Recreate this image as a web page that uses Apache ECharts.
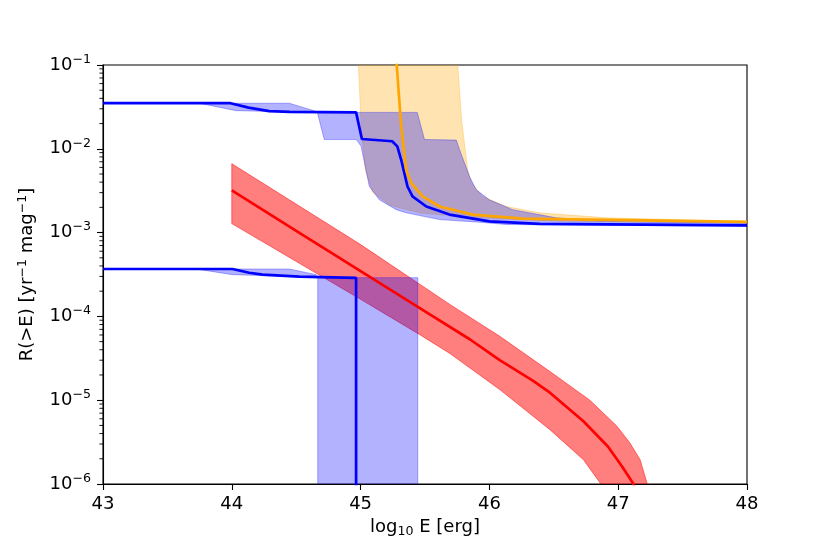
<!DOCTYPE html>
<html>
<head>
<meta charset="utf-8">
<script src="https://cdn.jsdelivr.net/npm/echarts@6/dist/echarts.min.js"></script>
<style>
  html, body { margin: 0; padding: 0; background: #fff; }
  #chart { width: 830px; height: 554px; }
</style>
</head>
<body>
<div id="chart"></div>
<script>
// x = log10 E [erg], y = R(>E)
// upper blue curve and its band
const blueHighE = [43.0, 43.99, 44.13, 44.29, 44.45, 44.965, 45.01, 45.245, 45.285, 45.315, 45.364, 45.403, 45.51, 45.69, 46.0, 46.39, 48.0]
const blueHighR = [0.035, 0.035, 0.031, 0.0282, 0.0276, 0.0272, 0.0131, 0.0123, 0.0107, 7.4e-3, 3.55e-3, 2.7e-3, 2.05e-3, 1.64e-3, 1.36e-3, 1.27e-3, 1.22e-3]
const blueHighUpE = [43.0, 44.446, 44.68, 45.44, 45.496, 45.743, 45.768, 45.846, 45.898, 46.0, 46.18, 46.52, 46.909, 48.0]
const blueHighUpR = [0.035, 0.035, 0.0272, 0.0272, 0.0129, 0.0127, 0.0098, 4.66e-3, 3.25e-3, 2.46e-3, 1.88e-3, 1.5e-3, 1.36e-3, 1.3e-3]
const blueHighLoE = [43.0, 43.746, 44.034, 44.664, 44.718, 44.967, 45.004, 45.068, 45.146, 45.276, 45.354, 45.613, 45.924, 46.131, 48.0]
const blueHighLoR = [0.035, 0.035, 0.0285, 0.0272, 0.0129, 0.0129, 0.0107, 3.55e-3, 2.46e-3, 1.88e-3, 1.72e-3, 1.43e-3, 1.33e-3, 1.25e-3, 1.19e-3]

// orange curve and its band
const orangeE = [45.27, 45.281, 45.315, 45.354, 45.393, 45.481, 45.613, 45.87, 46.258, 48.0]
const orangeR = [0.3, 0.098, 0.0186, 5.6e-3, 3.92e-3, 2.7e-3, 2.05e-3, 1.64e-3, 1.47e-3, 1.34e-3]
const orangeUpE = [45.745, 45.755, 45.784, 45.831, 45.86, 45.947, 46.131, 46.39, 46.909, 48.0]
const orangeUpR = [0.3, 0.098, 0.0222, 5.6e-3, 3.92e-3, 2.7e-3, 2.05e-3, 1.72e-3, 1.5e-3, 1.36e-3]
const orangeLoE = [44.975, 44.983, 45.006, 45.037, 45.092, 45.224, 45.457, 45.846, 46.468, 48.0]
const orangeLoR = [0.3, 0.1, 0.017, 5.6e-3, 3.06e-3, 2.14e-3, 1.72e-3, 1.52e-3, 1.38e-3, 1.3e-3]

// lower blue curve and its band
const blueLowE = [43.0, 44.005, 44.135, 44.239, 44.524, 44.965, 44.965]
const blueLowR = [3.68e-4, 3.68e-4, 3.32e-4, 3.15e-4, 2.98e-4, 2.88e-4, 5e-7]
const blueLowUpE = [43.0, 44.446, 44.654, 44.667, 45.444, 45.444]
const blueLowUpR = [3.68e-4, 3.68e-4, 3.15e-4, 2.9e-4, 2.9e-4, 5e-7]
const blueLowLoE = [43.0, 43.72, 44.005, 44.3, 44.654, 44.667, 44.667]
const blueLowLoR = [3.68e-4, 3.68e-4, 3.15e-4, 3.05e-4, 2.9e-4, 2.9e-4, 5e-7]

// red curve and its band
const redE = [44.0, 44.5, 45.0, 45.5, 45.85, 46.08, 46.34, 46.47, 46.73, 46.92, 47.03, 47.114, 47.14]
const redR = [3.19e-3, 1.05e-3, 3.47e-4, 1.15e-4, 5.3e-5, 3.0e-5, 1.7e-5, 1.23e-5, 5.6e-6, 2.8e-6, 1.62e-6, 1.03e-6, 8e-7]
const redUpE = [44.0, 45.0, 45.69, 46.08, 46.47, 46.78, 46.99, 47.09, 47.17, 47.223, 47.25]
const redUpR = [6.64e-3, 7.2e-4, 1.4e-4, 5.8e-5, 2.2e-5, 1.0e-5, 4.9e-6, 3.1e-6, 1.95e-6, 1.03e-6, 8e-7]
const redLoE = [44.0, 45.0, 45.46, 45.694, 46.083, 46.47, 46.73, 46.86, 46.9]
const redLoR = [1.28e-3, 1.6e-4, 6.05e-5, 3.6e-5, 1.33e-5, 4.45e-6, 1.95e-6, 1.03e-6, 8e-7]

// axis ticks
const xTicks = [43, 44, 45, 46, 47, 48]
const yDecades = [1e-6, 1e-5, 1e-4, 1e-3, 1e-2, 1e-1]
const yMinorSteps = [2, 3, 4, 5, 6, 7, 8, 9]

const zip = (xs, ys) => xs.map((x, i) => [x, ys[i]])

const font = 'DejaVu Sans'

// fill between two curves, drawn as one polygon through the axes
function band(upE, upR, loE, loR, color, z) {
  const up = zip(upE, upR)
  const lo = zip(loE, loR)
  return {
    type: 'custom',
    clip: true,
    silent: true,
    z: z,
    data: [up[0]],
    renderItem(params, api) {
      const pts = up.map(p => api.coord(p)).concat(lo.slice().reverse().map(p => api.coord(p)))
      return {
        type: 'polygon',
        shape: { points: pts },
        style: { fill: color, stroke: color, lineWidth: 1 }
      }
    }
  }
}

function curve(xs, ys, color, z) {
  return {
    type: 'line',
    data: zip(xs, ys),
    symbol: 'none',
    z: z,
    clip: true,
    lineStyle: { color: color, width: 2.7 },
    itemStyle: { color: color }
  }
}

// minor ticks of the log axis
const minorTicks = []
yDecades.slice(0, -1).forEach(d => yMinorSteps.forEach(m => minorTicks.push([43, d * m])))

const minorTickSeries = {
  type: 'custom',
  silent: true,
  clip: false,
  z: 10,
  data: minorTicks,
  renderItem(params, api) {
    const p = api.coord([api.value(0), api.value(1)])
    return {
      type: 'line',
      shape: { x1: p[0] - 3.6, y1: p[1], x2: p[0], y2: p[1] },
      style: { stroke: '#000', lineWidth: 0.9 }
    }
  }
}

const chart = echarts.init(document.getElementById('chart'))
chart.setOption({
  animation: false,
  backgroundColor: '#fff',
  grid: {
    left: 103,
    right: 83,
    top: 65,
    bottom: 70,
    show: true,
    borderColor: '#000',
    borderWidth: 1.1,
    backgroundColor: 'transparent'
  },
  xAxis: {
    type: 'value',
    min: 43,
    max: 48,
    interval: 1,
    name: '{n|log}{sub|10}{n| E [erg]}',
    nameLocation: 'middle',
    nameGap: 32,
    nameTextStyle: {
      rich: {
        n: { fontFamily: font, fontSize: 18, color: '#000' },
        sub: { fontFamily: font, fontSize: 12.6, color: '#000', padding: [9, 0, 0, 0] }
      }
    },
    axisLine: { onZero: false, lineStyle: { color: '#000', width: 1.1 } },
    axisTick: { inside: false, length: 6, lineStyle: { color: '#000', width: 1.1 } },
    axisLabel: {
      fontFamily: font,
      fontSize: 18,
      color: '#000',
      margin: 11,
      formatter: v => (xTicks.includes(v) ? String(v) : '')
    },
    splitLine: { show: false }
  },
  yAxis: {
    type: 'log',
    logBase: 10,
    min: 1e-6,
    max: 1e-1,
    name: '{n|R(>E) [yr}{sup|−1}{n| mag}{sup|−1}{n|]}',
    nameLocation: 'middle',
    nameGap: 64,
    nameTextStyle: {
      rich: {
        n: { fontFamily: font, fontSize: 18, color: '#000' },
        sup: { fontFamily: font, fontSize: 12.6, color: '#000', padding: [0, 0, 10, 0] }
      }
    },
    axisLine: { lineStyle: { color: '#000', width: 1.1 } },
    axisTick: { inside: false, length: 6, lineStyle: { color: '#000', width: 1.1 } },
    axisLabel: {
      margin: 12,
      formatter: v => '{b|10}{s|−' + Math.round(-Math.log10(v)) + '}',
      rich: {
        b: { fontFamily: font, fontSize: 18, color: '#000' },
        s: { fontFamily: font, fontSize: 12.6, color: '#000', padding: [0, 0, 11, 0] }
      }
    },
    splitLine: { show: false }
  },
  series: [
    band(redUpE, redUpR, redLoE, redLoR, 'rgba(255,0,0,0.5)', 1),
    band(orangeUpE, orangeUpR, orangeLoE, orangeLoR, 'rgba(255,165,0,0.3)', 2),
    band(blueHighUpE, blueHighUpR, blueHighLoE, blueHighLoR, 'rgba(0,0,255,0.3)', 3),
    band(blueLowUpE, blueLowUpR, blueLowLoE, blueLowLoR, 'rgba(0,0,255,0.3)', 3),
    curve(blueHighE, blueHighR, '#0000ff', 5),
    curve(blueLowE, blueLowR, '#0000ff', 5),
    curve(orangeE, orangeR, '#ffa500', 6),
    curve(redE, redR, '#ff0000', 7),
    minorTickSeries
  ]
})
</script>
</body>
</html>
